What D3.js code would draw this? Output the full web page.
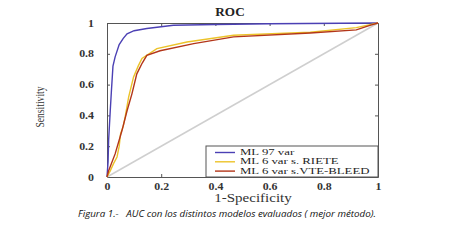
<!DOCTYPE html>
<html>
<head>
<meta charset="utf-8">
<script src="https://cdn.jsdelivr.net/npm/d3@7"></script>
<style>
  body { margin: 0; background: #fff; }
  text { font-family: "Liberation Serif", "DejaVu Serif", serif; }
</style>
</head>
<body>
<div id="chart"></div>
<script>
const W = 465, H = 240;
const margin = {top: 23, right: 87, bottom: 63, left: 107},
      width = W - margin.left - margin.right,
      height = H - margin.top - margin.bottom;
const stretch = 1.25; // the picture's serif text is wider than it is tall

// curve points: [1-specificity, sensitivity]
const ml97 = [[0,0],[0.004,0.1],[0.006,0.24],[0.012,0.43],[0.016,0.55],[0.022,0.72],[0.03,0.78],[0.045,0.86],[0.06,0.9],[0.074,0.93],[0.1,0.95],[0.147,0.964],[0.245,0.985],[0.4,0.99],[0.6,0.995],[1,1]];
const riete = [[0,0],[0.012,0.04],[0.024,0.087],[0.037,0.13],[0.045,0.2],[0.05,0.28],[0.06,0.33],[0.067,0.39],[0.08,0.52],[0.098,0.65],[0.115,0.72],[0.129,0.77],[0.184,0.834],[0.295,0.877],[0.467,0.92],[0.75,0.94],[0.92,0.97],[1,1]];
const vteBleed = [[0,0],[0.006,0.04],[0.03,0.15],[0.055,0.3],[0.074,0.43],[0.092,0.54],[0.11,0.67],[0.13,0.74],[0.147,0.79],[0.196,0.82],[0.32,0.866],[0.467,0.91],[0.75,0.935],[0.92,0.955],[0.97,0.985],[1,1]];
const chance = [[0,0],[1,1]];

const seriesNames = ["ML 97 var", "ML 6 var s. RIETE", "ML 6 var s.VTE-BLEED"];
const seriesData = [ml97, riete, vteBleed];
const colors = ["#4b40b4", "#ecc32a", "#b3361a"];
const ticks = [0, 0.2, 0.4, 0.6, 0.8, 1];

const svg = d3.select("#chart").append("svg")
  .attr("width", W).attr("height", H);
const g = svg.append("g").attr("transform", `translate(${margin.left},${margin.top})`);

const x = d3.scaleLinear().domain([0, 1]).range([0, width]);
const y = d3.scaleLinear().domain([0, 1]).range([height, 0]);
const fmt = d => d === 0 || d === 1 ? String(d) : d3.format(".1f")(d);

// axes with inward ticks
const xAxis = g.append("g").attr("transform", `translate(0,${height})`)
  .call(d3.axisBottom(x).tickValues(ticks).tickFormat(fmt).tickSizeInner(-3).tickSizeOuter(0).tickPadding(6));
const yAxis = g.append("g")
  .call(d3.axisLeft(y).tickValues(ticks).tickFormat(fmt).tickSizeInner(-3).tickSizeOuter(0).tickPadding(13));
const topAxis = g.append("g")
  .call(d3.axisTop(x).tickValues(ticks).tickFormat("").tickSizeInner(-3).tickSizeOuter(0));
const rightAxis = g.append("g").attr("transform", `translate(${width},0)`)
  .call(d3.axisRight(y).tickValues(ticks).tickFormat("").tickSizeInner(-3).tickSizeOuter(0));

[xAxis, yAxis, topAxis, rightAxis].forEach(a => {
  a.select(".domain").attr("stroke", "#555");
  a.selectAll(".tick line").attr("stroke", "#555");
  a.selectAll(".tick text").attr("font-size", 9.5).attr("font-weight", "bold").attr("fill", "#333")
    .style("font-family", "'Liberation Serif', serif");
});
xAxis.selectAll(".tick text").attr("transform", `scale(${stretch},1)`);
yAxis.selectAll(".tick text").attr("transform", `scale(${stretch},1)`).attr("x", -13 / stretch);

const line = d3.line().x(d => x(d[0])).y(d => y(d[1]));

g.append("path").datum(chance).attr("d", line)
  .attr("fill", "none").attr("stroke", "#cfcfcf").attr("stroke-width", 1.5);

seriesData.forEach((s, i) => {
  g.append("path").datum(s).attr("d", line)
    .attr("fill", "none").attr("stroke", colors[i]).attr("stroke-width", 1.4);
});

// legend
const lgW = 172, lgH = 31;
const lg = g.append("g").attr("transform", `translate(${width - lgW},${height - lgH})`);
lg.append("rect").attr("width", lgW).attr("height", lgH)
  .attr("fill", "#fff").attr("stroke", "#555").attr("stroke-width", 1);
seriesNames.forEach((n, i) => {
  const yy = 6.5 + i * 9.3;
  lg.append("line").attr("x1", 9).attr("x2", 29).attr("y1", yy).attr("y2", yy)
    .attr("stroke", colors[i]).attr("stroke-width", 1.4);
  lg.append("text").attr("transform", `translate(34,${yy}) scale(1.6,1)`).attr("dy", "0.33em")
    .attr("font-size", 8).attr("fill", "#222").text(n);
});

// titles
svg.append("text").attr("transform", "translate(230,16) scale(1.1,1)").attr("text-anchor", "middle")
  .attr("font-size", 12).attr("font-weight", "bold").attr("fill", "#222").text("ROC");
svg.append("text").attr("transform", `translate(253,202) scale(${stretch},1)`).attr("text-anchor", "middle")
  .attr("font-size", 12).attr("fill", "#333").text("1-Specificity");
svg.append("text").attr("transform", "translate(44,107) rotate(-90)")
  .attr("text-anchor", "middle").attr("font-size", 11.5).attr("fill", "#333")
  .attr("textLength", 41).attr("lengthAdjust", "spacingAndGlyphs").text("Sensitivity");

svg.append("text").attr("x", 78).attr("y", 217)
  .style("font-family", "'Open Sans', 'DejaVu Sans', sans-serif")
  .attr("font-size", 8.6).attr("font-style", "italic").attr("fill", "#111")
  .attr("textLength", 298).attr("lengthAdjust", "spacingAndGlyphs")
  .attr("xml:space", "preserve")
  .text("Figura 1.-   AUC con los distintos modelos evaluados ( mejor método).");
</script>
</body>
</html>
